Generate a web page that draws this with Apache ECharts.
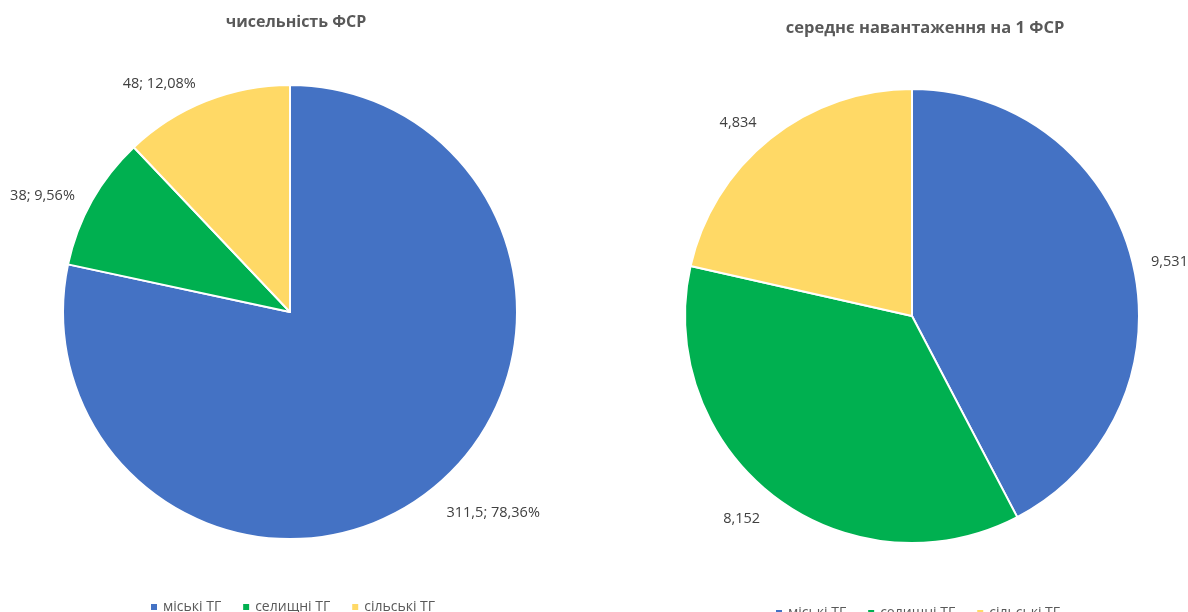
<!DOCTYPE html>
<html>
<head>
<meta charset="utf-8">
<script src="https://cdn.jsdelivr.net/npm/echarts@6/dist/echarts.min.js"></script>
<style>
html, body { margin: 0; padding: 0; background: #fff; }
#chart { width: 1188px; height: 612px; }
</style>
</head>
<body>
<div id="chart"></div>
<script>
// categories and values
var categories = ['міські ТГ', 'селищні ТГ', 'сільські ТГ'];
var colors = ['#4472C4', '#00B050', '#FFD966'];
var countValues = [311.5, 38, 48];          // чисельність ФСР
var loadValues = [9.531, 8.152, 4.834];     // середнє навантаження на 1 ФСР
var titles = ['чисельність ФСР', 'середнє навантаження на 1 ФСР'];

// small label nudges (Excel "best fit" placement)
var labelShift = [[13, 2, -4], [3, 12, -5]];

function comma(v) { return String(v).replace('.', ','); }

function makeData(vals) {
	var out = [];
	for (var i = 0; i < vals.length; i++) {
		out.push({ name: categories[i], value: vals[i], itemStyle: { color: colors[i] } });
	}
	return out;
}

var myChart = echarts.init(document.getElementById('chart'));

var textFont = '"Open Sans", "Noto Sans", sans-serif';

myChart.setOption({
	animation: false,
	textStyle: { fontFamily: textFont },
	title: [
		{ text: titles[0], left: 291, top: 9, textAlign: 'center',
		  textStyle: { fontSize: 16, fontWeight: 'bold', color: '#595959', fontFamily: textFont } },
		{ text: titles[1], left: 920, top: 15, textAlign: 'center',
		  textStyle: { fontSize: 16.5, fontWeight: 'bold', color: '#595959', fontFamily: textFont } }
	],
	legend: [
		{ data: categories, left: 144, top: 595, icon: 'rect', itemWidth: 8, itemHeight: 8, itemGap: 20,
		  textStyle: { fontSize: 14, color: '#595959' } },
		{ data: categories, left: 769, top: 601, icon: 'rect', itemWidth: 8, itemHeight: 8, itemGap: 20,
		  textStyle: { fontSize: 14, color: '#595959' } }
	],
	series: [
		{
			name: titles[0],
			type: 'pie',
			center: [290, 312],
			radius: 227,
			startAngle: 90,
			clockwise: true,
			percentPrecision: 2,
			itemStyle: { borderColor: '#fff', borderWidth: 2 },
			label: {
				show: true,
				position: 'outside',
				fontSize: 14.5,
				color: '#404040',
				overflow: 'none',
				formatter: function (p) { return comma(p.value) + '; ' + comma(p.percent.toFixed(2)) + '%'; }
			},
			labelLine: { show: false, length: 14, length2: 0 },
			labelLayout: function (p) { return { dy: labelShift[0][p.dataIndex] }; },
			emphasis: { disabled: true },
			data: makeData(countValues)
		},
		{
			name: titles[1],
			type: 'pie',
			center: [912, 316],
			radius: 227,
			startAngle: 90,
			clockwise: true,
			itemStyle: { borderColor: '#fff', borderWidth: 2 },
			label: {
				show: true,
				position: 'outside',
				fontSize: 14.5,
				color: '#404040',
				overflow: 'none',
				formatter: function (p) { return comma(p.value.toFixed(3)); }
			},
			labelLine: { show: false, length: 14, length2: 0 },
			labelLayout: function (p) { return { dy: labelShift[1][p.dataIndex] }; },
			emphasis: { disabled: true },
			data: makeData(loadValues)
		}
	]
});
</script>
</body>
</html>
